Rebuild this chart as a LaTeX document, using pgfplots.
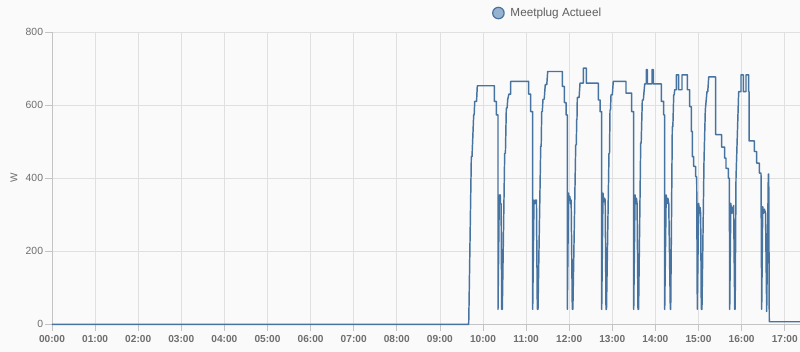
\documentclass[border=0pt]{standalone}
\usepackage{fontspec}
\setmainfont{Liberation Sans}
\usepackage{pgfplots}
\pgfplotsset{compat=1.18}
\definecolor{bg}{HTML}{FAFAFA}
\definecolor{gridc}{HTML}{E0E0E0}
\definecolor{axc}{HTML}{C4C4C4}
\definecolor{linec}{RGB}{70,115,160}
\definecolor{legfill}{RGB}{150,178,206}
\definecolor{txt}{HTML}{6E6E6E}
\definecolor{legtxt}{HTML}{5E5E5E}
\begin{document}
\begin{tikzpicture}
\fill[bg] (0,0) rectangle (600pt,264pt);
\useasboundingbox (0,0) rectangle (600pt,264pt);
\begin{axis}[
  at={(39pt,20.775pt)}, anchor=south west,
  scale only axis, width=561pt, height=219.2pt,
  xmin=0, xmax=17.355, ymin=0, ymax=800,
  axis x line=bottom, axis y line=left,
  axis line style={axc, -, line width=0.6pt},
  xtick={0,1,...,17},
  xticklabels={00:00,01:00,02:00,03:00,04:00,05:00,06:00,07:00,08:00,09:00,10:00,11:00,12:00,13:00,14:00,15:00,16:00,17:00},
  ytick={0,200,400,600,800},
  /pgf/number format/assume math mode=true,
  grid=major, major grid style={gridc, line width=0.6pt},
  tick style={axc, line width=0.6pt}, tick align=outside,
  major tick length=5pt,
  ticklabel style={font=\fontsize{7.8}{9}\selectfont, text=txt},
  xticklabel style={font=\fontsize{7.6}{9}\selectfont\bfseries, text=txt},
  yticklabel style={inner sep=1.5pt},
  ylabel={W},
  ylabel style={at={(axis description cs:-0.0508,0.5)}, anchor=center, font=\fontsize{7.5}{9}\selectfont, text=txt},
  legend style={at={(axis description cs:0.588,1.065)}, anchor=west, draw=none, fill=none,
    font=\fontsize{8.8}{10}\selectfont, text=legtxt, inner sep=0pt},
  legend image code/.code={\draw[fill=legfill, draw=linec, line width=0.9pt] (4.5pt,0pt) circle (4.3pt); \path (11pt,0pt);},
  clip=false,
]
\addplot[linec, line width=1.1pt, line join=round] coordinates {
(0,0) (9.668,0) (9.675,48) (9.729,459) (9.745,459) (9.784,573) (9.795,573) (9.808,610) (9.850,610) (9.868,653)
(10.262,653) (10.262,610) (10.309,610) (10.309,573) (10.348,573) (10.348,41) (10.378,354) (10.390,330) (10.400,354) (10.406,330) (10.420,330) (10.434,41)
(10.448,41) (10.503,468) (10.520,468) (10.541,592) (10.560,592) (10.573,615) (10.600,630) (10.643,630) (10.643,665)
(11.060,665) (11.060,630) (11.107,630) (11.107,582) (11.153,582) (11.153,41) (11.183,340) (11.200,330) (11.218,340) (11.240,340) (11.260,41)
(11.276,41) (11.339,487) (11.350,487) (11.362,582) (11.375,582) (11.392,616) (11.420,616) (11.445,656) (11.480,656) (11.501,692)
(11.840,692) (11.840,651) (11.886,651) (11.886,607) (11.926,607) (11.926,573) (11.956,573) (11.956,41) (11.985,359) (12.000,340) (12.015,350) (12.030,330) (12.045,340) (12.072,41)
(12.085,41) (12.151,491) (12.165,491) (12.174,560) (12.180,560) (12.188,621) (12.230,621) (12.251,660) (12.327,660) (12.327,701) (12.397,701) (12.397,660)
(12.675,660) (12.675,614) (12.715,614) (12.715,582) (12.754,582) (12.754,41) (12.784,359) (12.800,335) (12.819,345) (12.835,340) (12.854,41)
(12.865,41) (12.923,468) (12.935,468) (12.947,587) (12.958,587) (12.970,628) (13.000,628) (13.023,665)
(13.318,665) (13.318,633) (13.450,633) (13.450,582) (13.497,582) (13.497,41) (13.528,354) (13.545,330) (13.560,345) (13.575,330) (13.596,41)
(13.610,41) (13.659,496) (13.670,496) (13.696,614) (13.720,614) (13.752,658) (13.789,658) (13.789,697) (13.812,697) (13.812,658) (13.921,658) (13.921,697) (13.951,697) (13.951,658)
(14.137,658) (14.137,610) (14.193,610) (14.193,573) (14.216,573) (14.216,41) (14.250,354) (14.270,330) (14.290,345) (14.310,330) (14.346,41)
(14.355,41) (14.392,541) (14.405,541) (14.425,628) (14.435,628) (14.448,642) (14.485,642) (14.485,683) (14.541,683) (14.541,642) (14.617,642) (14.617,683) (14.740,683) (14.740,642)
(14.796,642) (14.796,596) (14.833,596) (14.833,528) (14.856,528) (14.856,459) (14.889,459) (14.889,432) (14.935,432) (14.935,404) (14.958,404) (14.972,41)
(15.004,331) (15.020,304) (15.035,320) (15.050,304) (15.065,41)
(15.080,41) (15.128,450) (15.158,587) (15.197,637) (15.215,637) (15.237,677)
(15.399,677) (15.399,519) (15.538,519) (15.538,485) (15.608,485) (15.608,455) (15.638,455) (15.638,427) (15.691,427) (15.691,400) (15.715,400) (15.724,41)
(15.750,331) (15.770,304) (15.785,320) (15.800,304) (15.815,325) (15.840,41)
(15.850,41) (15.870,400) (15.932,637) (15.986,637) (15.986,683) (16.039,683) (16.039,637) (16.102,637) (16.102,683) (16.165,683) (16.165,637)
(16.172,637) (16.172,502) (16.295,502) (16.295,473) (16.350,473) (16.350,441) (16.411,441) (16.411,414) (16.450,414) (16.466,41)
(16.490,322) (16.510,304) (16.530,315) (16.555,304) (16.582,35) (16.620,411) (16.629,411) (16.642,7) (17.355,7)
};
\addlegendentry{Meetplug Actueel}
\end{axis}
\end{tikzpicture}
\end{document}
